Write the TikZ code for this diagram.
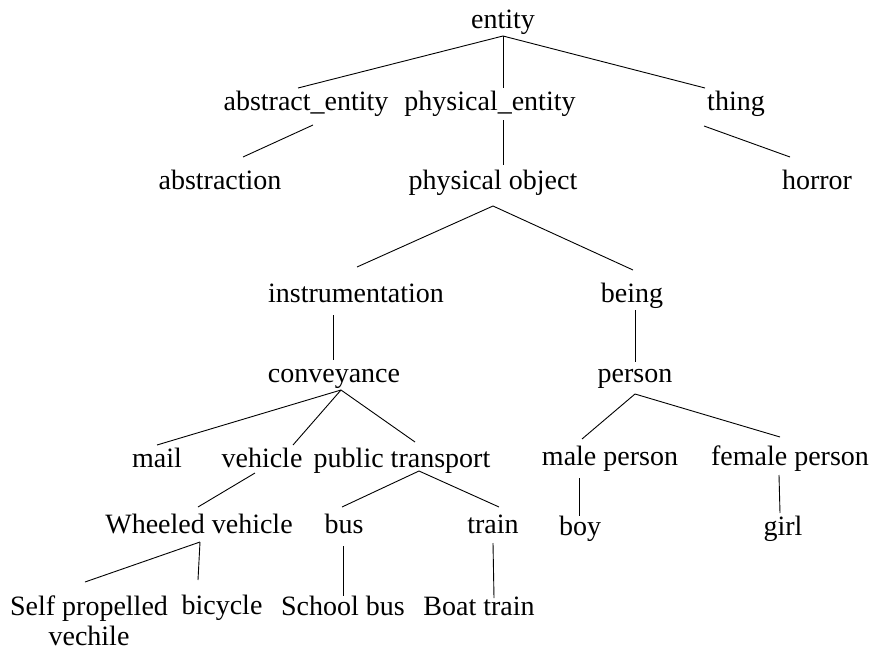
\documentclass[tikz,border=0pt]{standalone}
\usepackage{fontspec}
\setmainfont{Liberation Serif}
\begin{document}
\begin{tikzpicture}[x=1pt,y=-1pt,
  lbl/.style={anchor=base,inner sep=0pt,font=\fontsize{28}{30}\selectfont},
  edge/.style={draw=black,line width=0.9pt}]
\useasboundingbox (0,0) rectangle (873,653);
% nodes
\node[lbl] (entity) at (503,28) {entity};
\node[lbl] (abs) at (306,110) {abstract\_entity};
\node[lbl] (phys) at (490,110) {physical\_entity};
\node[lbl] (thing) at (736,110) {thing};
\node[lbl] (abstraction) at (220,189) {abstraction};
\node[lbl] (pobj) at (493,189) {physical object};
\node[lbl] (horror) at (817,189) {horror};
\node[lbl] (instr) at (356,302) {instrumentation};
\node[lbl] (being) at (632,302) {being};
\node[lbl] (conv) at (334,382) {conveyance};
\node[lbl] (person) at (635,382) {person};
\node[lbl] (mail) at (157,467) {mail};
\node[lbl] (vehicle) at (262,467) {vehicle};
\node[lbl] (pubt) at (402,467) {public transport};
\node[lbl] (male) at (610,465) {male person};
\node[lbl] (female) at (790,465) {female person};
\node[lbl] (wheeled) at (199,533) {Wheeled vehicle};
\node[lbl] (bus) at (344,533) {bus};
\node[lbl] (train) at (493,533) {train};
\node[lbl] (boy) at (580,535) {boy};
\node[lbl] (girl) at (783,535) {girl};
\node[lbl,align=center] (selfp) at (89,645) {Self propelled\\vechile};
\node[lbl] (bicycle) at (222,614) {bicycle};
\node[lbl] (schoolbus) at (343,615) {School bus};
\node[lbl] (boattrain) at (479,615) {Boat train};
% connector end points
\coordinate (entity-b) at (503,36);
\coordinate (abs-t) at (298,88);
\coordinate (phys-t) at (503,88);
\coordinate (thing-t) at (705,88);
\coordinate (abs-b) at (313,125);
\coordinate (abstraction-t) at (243,157);
\coordinate (phys-b) at (503,120);
\coordinate (pobj-t) at (503,165);
\coordinate (thing-b) at (704,126);
\coordinate (horror-t) at (790,157);
\coordinate (pobj-b) at (493,206);
\coordinate (instr-t) at (357,267);
\coordinate (being-t) at (633,270);
\coordinate (instr-b) at (333,315);
\coordinate (conv-t) at (333,360);
\coordinate (being-b) at (635,310);
\coordinate (person-t) at (635,362);
\coordinate (conv-b) at (341,390);
\coordinate (mail-t) at (157,445);
\coordinate (vehicle-t) at (293,445);
\coordinate (pubt-t) at (415,442);
\coordinate (vehicle-b) at (255,473);
\coordinate (wheeled-t) at (198,507);
\coordinate (pubt-b) at (419,471);
\coordinate (bus-t) at (342,507);
\coordinate (train-t) at (499,507);
\coordinate (wheeled-b) at (200,542);
\coordinate (selfp-t) at (85,582);
\coordinate (bicycle-t) at (198,580);
\coordinate (bus-b) at (343,546);
\coordinate (schoolbus-t) at (343,596);
\coordinate (train-b) at (493,543);
\coordinate (boattrain-t) at (494,598);
\coordinate (person-b) at (635,394);
\coordinate (male-t) at (582,439);
\coordinate (female-t) at (780,437);
\coordinate (male-b) at (579,478);
\coordinate (boy-t) at (579,516);
\coordinate (female-b) at (779,475);
\coordinate (girl-t) at (780,513);
% connectors
\draw[edge] (entity-b) -- (abs-t);
\draw[edge] (entity-b) -- (phys-t);
\draw[edge] (entity-b) -- (thing-t);
\draw[edge] (abs-b) -- (abstraction-t);
\draw[edge] (phys-b) -- (pobj-t);
\draw[edge] (thing-b) -- (horror-t);
\draw[edge] (pobj-b) -- (instr-t);
\draw[edge] (pobj-b) -- (being-t);
\draw[edge] (instr-b) -- (conv-t);
\draw[edge] (being-b) -- (person-t);
\draw[edge] (conv-b) -- (mail-t);
\draw[edge] (conv-b) -- (vehicle-t);
\draw[edge] (conv-b) -- (pubt-t);
\draw[edge] (vehicle-b) -- (wheeled-t);
\draw[edge] (pubt-b) -- (bus-t);
\draw[edge] (pubt-b) -- (train-t);
\draw[edge] (wheeled-b) -- (selfp-t);
\draw[edge] (wheeled-b) -- (bicycle-t);
\draw[edge] (bus-b) -- (schoolbus-t);
\draw[edge] (train-b) -- (boattrain-t);
\draw[edge] (person-b) -- (male-t);
\draw[edge] (person-b) -- (female-t);
\draw[edge] (male-b) -- (boy-t);
\draw[edge] (female-b) -- (girl-t);
\end{tikzpicture}
\end{document}
